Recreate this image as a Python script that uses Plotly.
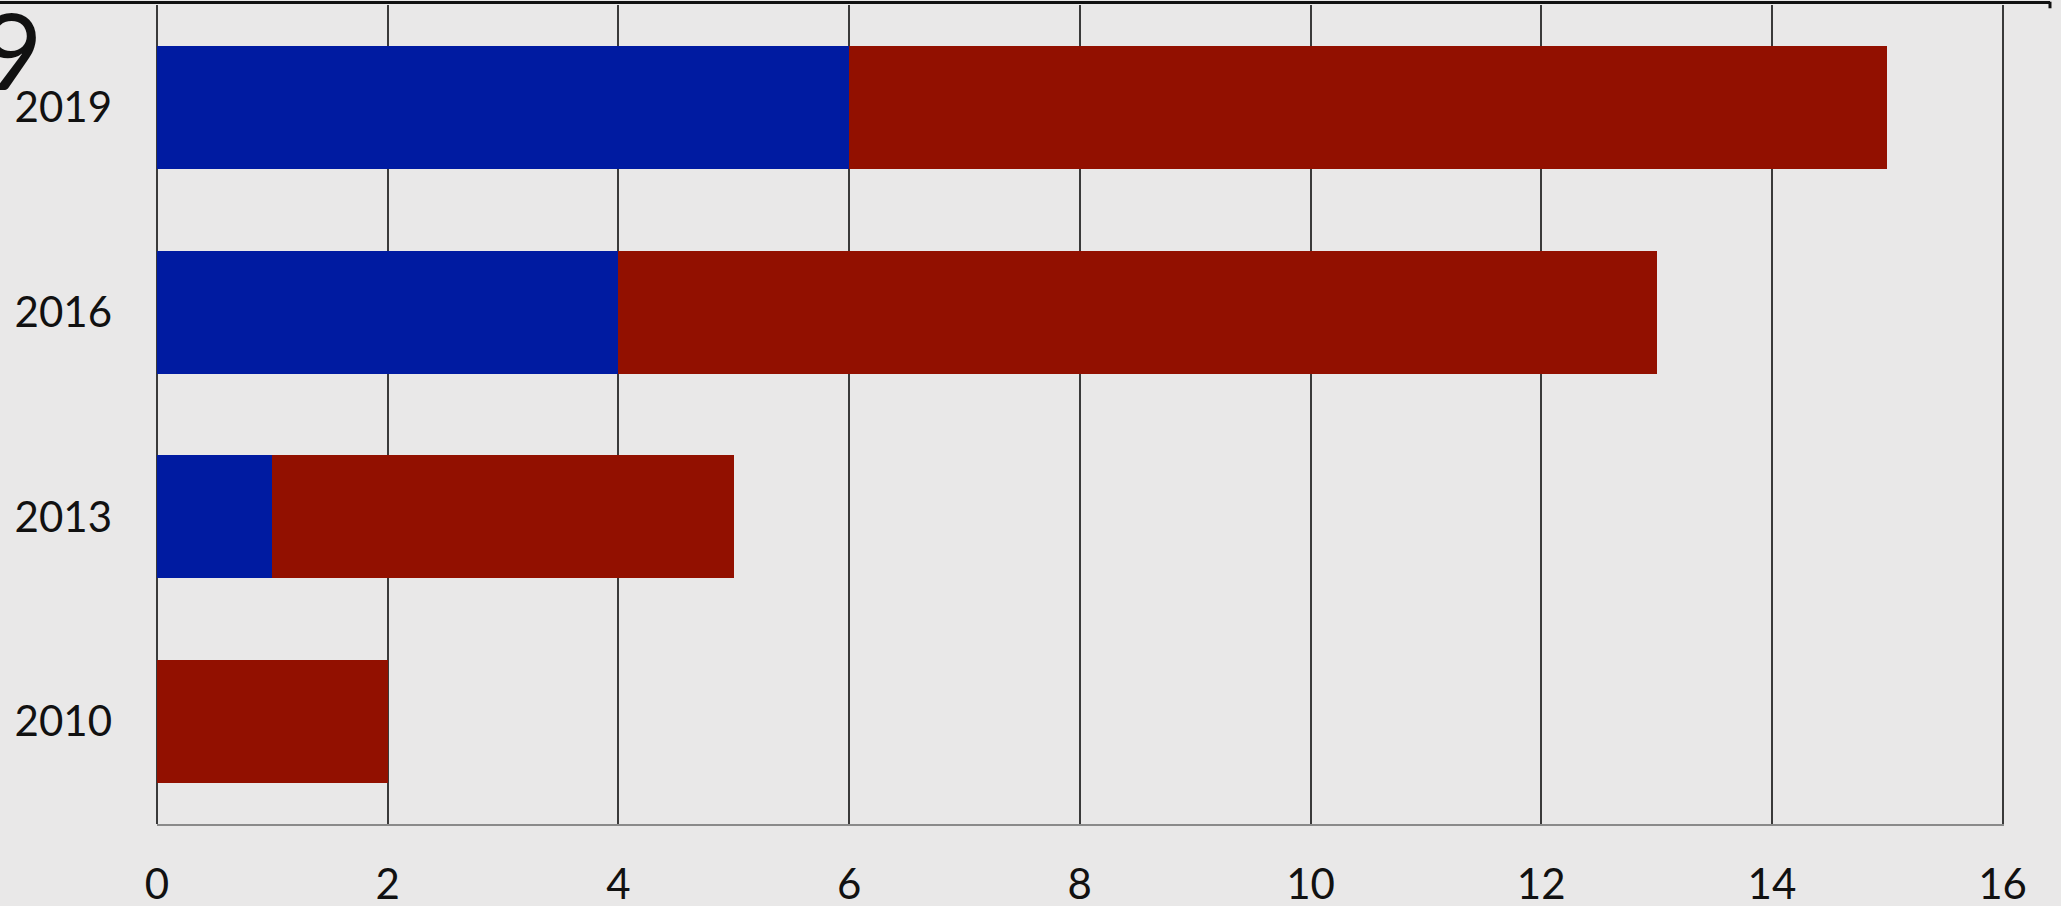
import plotly.graph_objects as go

years = ["2010", "2013", "2016", "2019"]
blue_vals = [0, 1, 4, 6]
red_vals = [2, 4, 9, 9]
x_ticks = [0, 2, 4, 6, 8, 10, 12, 14, 16]
x_tick_labels = ["0", "2", "4", "6", "8", "10", "12", "14", "16"]

BLUE = "#001BA1"
RED = "#921000"
GRID = "#3a3a3a"
FONT = "Lato, 'Open Sans', sans-serif"

fig = go.Figure()
fig.add_trace(go.Bar(y=years, x=blue_vals, orientation="h",
                     marker=dict(color=BLUE, line=dict(width=0)), showlegend=False))
fig.add_trace(go.Bar(y=years, x=red_vals, orientation="h",
                     marker=dict(color=RED, line=dict(width=0)), showlegend=False))

fig.update_layout(
    barmode="stack",
    bargap=0.4,
    width=2061, height=906,
    margin=dict(l=157, r=57, t=5, b=82, autoexpand=False),
    paper_bgcolor="#E9E8E8",
    plot_bgcolor="#E9E8E8",
    font=dict(family=FONT, size=42, color="#111111"),
    xaxis=dict(range=[0, 16.012], tickvals=x_ticks, ticktext=x_tick_labels,
               showgrid=True, gridcolor=GRID, gridwidth=2,
               zeroline=True, zerolinecolor=GRID, zerolinewidth=2,
               showline=True, linecolor="#8a8a8a", linewidth=2,
               ticks="", ticklabelstandoff=23, automargin=False,
               tickfont=dict(size=42, family=FONT, color="#111111")),
    yaxis=dict(type="category", categoryorder="array", categoryarray=years,
               range=[-0.5, 3.5], showgrid=False, zeroline=False,
               ticks="", ticklabelstandoff=44, automargin=False,
               tickfont=dict(size=42, family=FONT, color="#111111")),
)

# top frame line (slide border)
fig.add_shape(type="line", xref="paper", yref="paper",
              x0=-0.09, x1=1.0249, y0=1.003, y1=1.003,
              line=dict(color="#111111", width=3))
fig.add_shape(type="line", xref="paper", yref="paper",
              x0=1.0249, x1=1.0249, y0=1.004, y1=0.996,
              line=dict(color="#111111", width=3))

# partially visible large title character at the left edge
fig.add_annotation(text="9", xref="paper", yref="paper",
                   x=-0.061, y=0.946, xanchor="right", yanchor="middle",
                   showarrow=False, font=dict(size=106, family=FONT, color="#111111"))

fig.write_html("out.html", config={"displayModeBar": False},
               post_script="document.body.style.margin='0';document.body.style.overflow='hidden';")
